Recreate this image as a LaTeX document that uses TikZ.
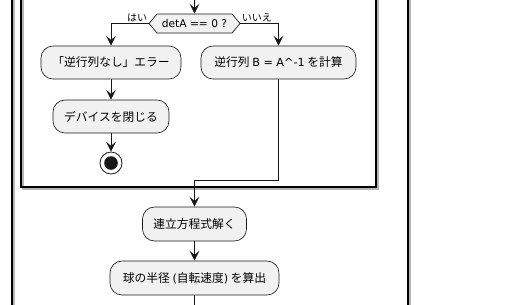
\documentclass[tikz,border=0pt]{standalone}
\usepackage{fontspec}
\setmainfont{Noto Sans CJK JP}
\newfontfamily\latinfont{DejaVu Sans}
\usepackage{tikz}
\usetikzlibrary{arrows.meta,positioning,shapes.symbols}
\definecolor{boxgrey}{HTML}{F1F1F1}
\definecolor{linedark}{HTML}{181818}
\definecolor{shadegrey}{HTML}{B4B4B4}
\tikzset{
  action/.style   = {draw=linedark, fill=boxgrey, rounded corners=9pt,
                     line width=0.5pt, minimum height=24.75pt, inner xsep=0pt,
                     font=\fontsize{8.8pt}{10pt}\selectfont},
  decision/.style = {signal, signal to=west and east, signal pointer angle=100,
                     draw=linedark, fill=boxgrey, line width=0.5pt,
                     minimum height=14.25pt, inner xsep=0pt, inner ysep=0pt,
                     font=\latinfont\fontsize{8pt}{9pt}\selectfont},
  branch label/.style = {inner sep=0.8pt, font=\fontsize{7.5pt}{8pt}\selectfont},
  stop node/.style = {circle, draw=linedark, fill=white, line width=0.6pt,
                      minimum size=16.5pt, inner sep=0pt,
                      path picture={\fill[linedark] (path picture bounding box.center) circle (5.1pt);}},
  flow/.style     = {-{Stealth[length=7.5pt,width=7.5pt,inset=3.2pt]}, linedark,
                     line width=0.75pt},
  frame/.style    = {draw=black, line width=1.1pt},
  frame shade/.style = {draw=shadegrey, line width=1.1pt},
}
\begin{document}
\begin{tikzpicture}[x=0.75pt, y=-0.75pt]
    \useasboundingbox (0,0) rectangle (506,304);
    \clip (0,0) rectangle (506,304);
    % frames
    \draw[frame shade] (14,-20) rectangle (410,330);
    \draw[frame] (12,-20) rectangle (408,330);
    \draw[frame shade] (23,-20) rectangle (378,189);
    \draw[frame] (21,-20) rectangle (376,187);
    % nodes
    \coordinate (in) at (194.5,-2);
    \node[decision, minimum width=68.25pt] (det) at (194.5,23.5) {detA == 0 ?};
    \node[branch label, anchor=south east] at (det.west) {はい};
    \node[branch label, anchor=south west] at (det.east) {いいえ};
    \node[action, minimum width=105pt] (noinv) at (111,62.5) {「逆行列なし」エラー};
    \node[action, minimum width=116.25pt] (inv) at (278.5,62.5)
      {逆行列 {\latinfont\fontsize{8.4pt}{10pt}\selectfont B = A\^{}-1} を計算};
    \node[action, minimum width=87pt] (close) at (111,116.5) {デバイスを閉じる};
    \node[stop node] (stop) at (111,163) {};
    \coordinate (merge) at (194.5,180);
    \node[action, minimum width=78pt, minimum height=25.5pt] (solve) at (194.5,224) {連立方程式解く};
    \node[action, minimum width=126.75pt, minimum height=25.5pt] (radius) at (194.5,278)
      {球の半径 {\latinfont\fontsize{8.4pt}{10pt}\selectfont(}自転速度{\latinfont\fontsize{8.4pt}{10pt}\selectfont)} を算出};
    \coordinate (out) at (194.5,310);
    % connectors
    \draw[flow] (in) -- (det);
    \draw[flow] (det.west) -| (noinv);
    \draw[flow] (det.east) -| (inv);
    \draw[flow] (noinv) -- (close);
    \draw[flow] (close) -- (stop);
    \draw[flow] (inv.south) |- (merge) -- (solve);
    \draw[flow] (solve) -- (radius);
    \draw[linedark, line width=0.75pt] (radius) -- (out);
  \end{tikzpicture}
\end{document}
